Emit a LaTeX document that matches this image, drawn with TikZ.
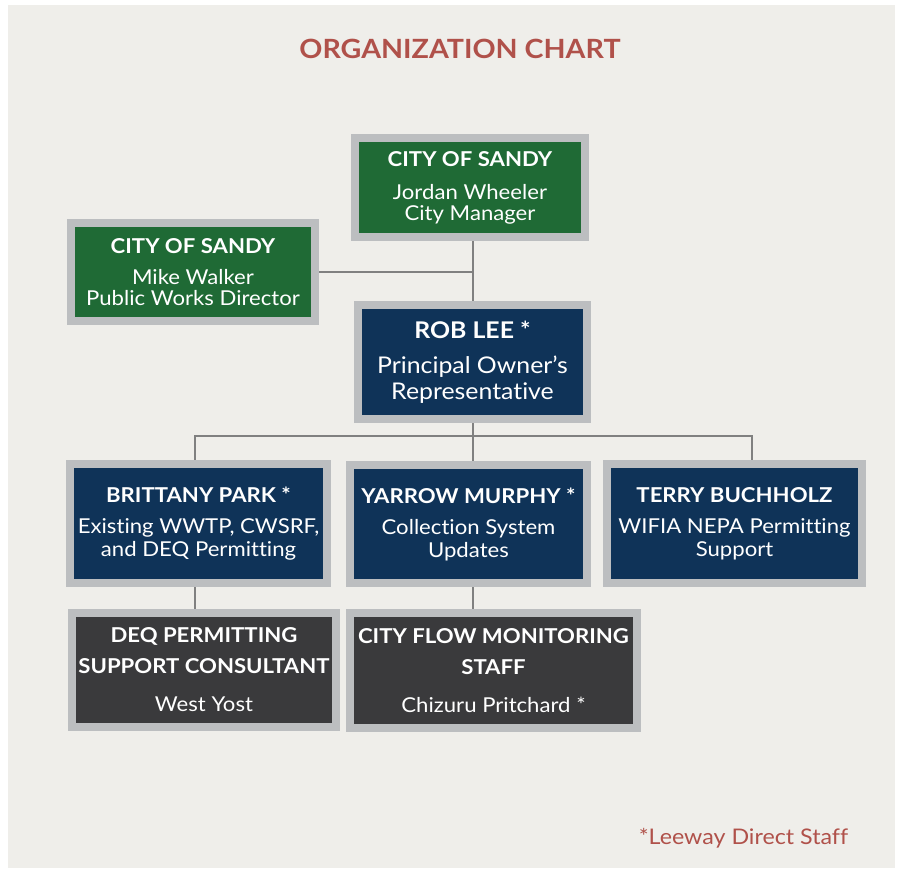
\documentclass[tikz,border=0pt]{standalone}
\usepackage{fontspec}
\setmainfont{Lato}[FakeStretch=1.08,Ligatures=NoCommon]
\usetikzlibrary{backgrounds}
\definecolor{panelgray}{HTML}{EFEEEA}
\definecolor{bordergray}{HTML}{BCBEC0}
\definecolor{linegray}{HTML}{808080}
\definecolor{citygreen}{HTML}{1F6A35}
\definecolor{leewayblue}{HTML}{0F3358}
\definecolor{subgray}{HTML}{3A3A3C}
\definecolor{titlered}{HTML}{B0514A}
\newcommand{\orghead}[1]{{\bfseries\fontsize{20.5}{21}\selectfont #1}}
\begin{document}
\begin{tikzpicture}[x=1pt,y=-1pt,
  orgbox/.style={draw=bordergray,line width=8pt,text=white,align=center,inner sep=0pt,font=\fontsize{20.5}{21}\selectfont},
  citybox/.style={orgbox,fill=citygreen},
  staffbox/.style={orgbox,fill=leewayblue},
  subbox/.style={orgbox,fill=subgray},
  link/.style={draw=linegray,line width=2pt}]
\useasboundingbox (0,0) rectangle (898,869);
\begin{scope}[on background layer]
  \fill[panelgray] (8,5) rectangle (895,868);
\end{scope}
% title and note
\node[font=\bfseries\fontsize{26.5}{26}\selectfont,text=titlered,anchor=base] (title) at (460,59) {ORGANIZATION CHART};
\node[font=\fontsize{21.5}{22}\selectfont,text=titlered,anchor=base] (note) at (743.5,844) {*Leeway Direct Staff};
% city
\node[citybox,minimum width=230,minimum height=99] (mgr) at (470,187.5)
  {\orghead{CITY OF SANDY}\\[12pt]Jordan Wheeler\\City Manager};
\node[citybox,minimum width=244,minimum height=98] (pwd) at (193,272)
  {\orghead{CITY OF SANDY}\\[10pt]Mike Walker\\Public Works Director};
% leeway
\node[staffbox,minimum width=229,minimum height=114,font=\fontsize{23}{26}\selectfont] (rob) at (472.5,362)
  {{\bfseries ROB LEE *}\\[9pt]Principal Owner’s\\Representative};
\node[staffbox,minimum width=257,minimum height=119,font=\fontsize{20.5}{22.5}\selectfont] (brit) at (198.5,523.5)
  {\orghead{BRITTANY PARK *}\\[9pt]Existing WWTP, CWSRF,\\and DEQ Permitting};
\node[staffbox,minimum width=237,minimum height=118,font=\fontsize{20.5}{22.5}\selectfont] (yarrow) at (468.5,524)
  {\orghead{YARROW MURPHY *}\\[9pt]Collection System\\Updates};
\node[staffbox,minimum width=255,minimum height=119,font=\fontsize{20.5}{22.5}\selectfont] (terry) at (734.5,523.5)
  {\orghead{TERRY BUCHHOLZ}\\[9pt]WIFIA NEPA Permitting\\Support};
% support
\node[subbox,minimum width=264,minimum height=114,font=\fontsize{20.5}{31}\selectfont] (deq) at (204,670)
  {\orghead{DEQ PERMITTING}\\\orghead{SUPPORT CONSULTANT}\\[7pt]West Yost};
\node[subbox,minimum width=287,minimum height=115,font=\fontsize{20.5}{31}\selectfont] (flow) at (493.5,670.5)
  {\orghead{CITY FLOW MONITORING}\\\orghead{STAFF}\\[7pt]Chizuru Pritchard *};
% lines
\coordinate (busL) at (195,436);
\coordinate (busR) at (752,436);
\begin{scope}[on background layer]
  \draw[link] (mgr.south -| rob.north) -- (rob.north);
  \draw[link] (pwd.east) -- (pwd.east -| rob.north);
  \draw[link] (rob.south) -- (rob.south |- busL);
  \draw[link] (busL |- brit.north) -- (busL) -- (busR) -- (busR |- terry.north);
  \draw[link] (rob.south |- busL) -- (rob.south |- yarrow.north);
  \draw[link] (busL |- brit.south) -- (busL |- deq.north);
  \draw[link] (rob.south |- yarrow.south) -- (rob.south |- flow.north);
\end{scope}
\end{tikzpicture}
\end{document}
